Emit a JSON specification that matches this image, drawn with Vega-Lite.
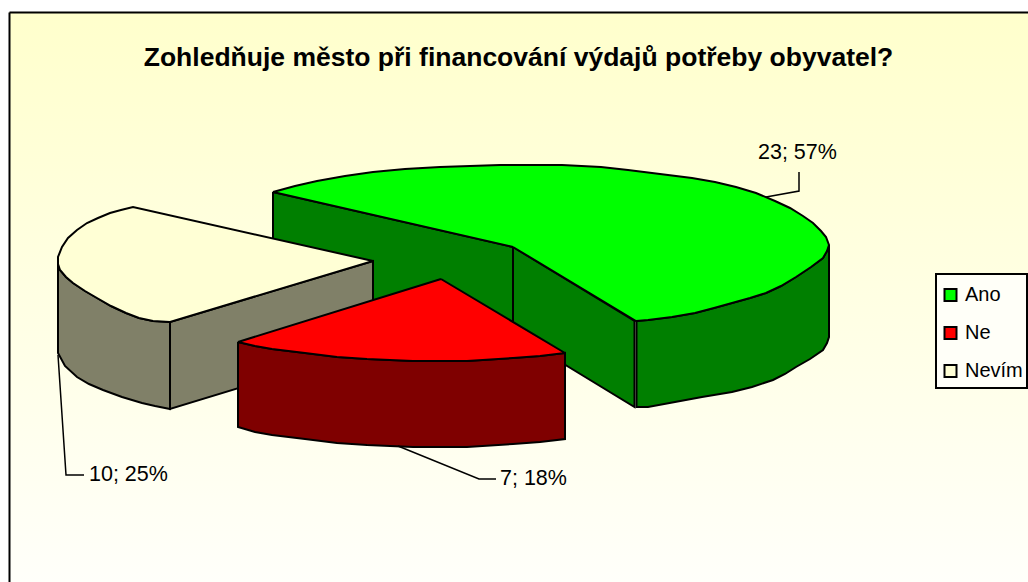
{"$schema":"https://vega.github.io/schema/vega-lite/v6.json","width":1019,"height":570,"autosize":"none","padding":{"left":9,"top":12,"right":0,"bottom":0},"background":"white","view":{"stroke":null,"fill":{"gradient":"linear","x1":0,"y1":0,"x2":0,"y2":1,"stops":[{"offset":0,"color":"#FFFFCC"},{"offset":1,"color":"#FFFFFA"}]}},"title":{"text":"Zohledňuje město při financování výdajů potřeby obyvatel?","font":"Liberation Sans","fontSize":26.5,"fontWeight":"bold","color":"black","anchor":"middle","offset":-59},"layer":[{"data":{"values":[{"x":936,"x2":1027,"y":274,"y2":388}]},"mark":{"type":"rect","fill":"#FFFFF8","stroke":"black","strokeWidth":2},"encoding":{"x":{"field":"x","type":"quantitative","scale":{"domain":[9,1028],"nice":false,"zero":false},"axis":{"orient":"top","title":null,"labels":false,"ticks":false,"grid":false,"domainColor":"black","domainWidth":2}},"x2":{"field":"x2"},"y":{"field":"y","type":"quantitative","scale":{"domain":[582,12],"nice":false,"zero":false},"axis":{"orient":"left","title":null,"labels":false,"ticks":false,"grid":false,"domainColor":"black","domainWidth":2}},"y2":{"field":"y2"}}},
{"data":{"values":[
{"shape":"w1","part":"Ano bok","i":0,"x":273,"y":192},{"shape":"w1","part":"Ano bok","i":1,"x":513,"y":247},{"shape":"w1","part":"Ano bok","i":2,"x":513,"y":333},{"shape":"w1","part":"Ano bok","i":3,"x":273,"y":279},{"shape":"w1","part":"Ano bok","i":4,"x":273,"y":192},
{"shape":"w2","part":"Ano bok","i":0,"x":513,"y":247},{"shape":"w2","part":"Ano bok","i":1,"x":634.5,"y":321},{"shape":"w2","part":"Ano bok","i":2,"x":634.5,"y":407},{"shape":"w2","part":"Ano bok","i":3,"x":513,"y":333},{"shape":"w2","part":"Ano bok","i":4,"x":513,"y":247},
{"shape":"w3","part":"Ano bok","i":0,"x":636.5,"y":321},{"shape":"w3","part":"Ano bok","i":1,"x":648,"y":320},{"shape":"w3","part":"Ano bok","i":2,"x":672,"y":317},{"shape":"w3","part":"Ano bok","i":3,"x":695,"y":313},{"shape":"w3","part":"Ano bok","i":4,"x":714,"y":308},{"shape":"w3","part":"Ano bok","i":5,"x":732,"y":303},{"shape":"w3","part":"Ano bok","i":6,"x":750,"y":298},{"shape":"w3","part":"Ano bok","i":7,"x":766,"y":293},{"shape":"w3","part":"Ano bok","i":8,"x":781,"y":286},{"shape":"w3","part":"Ano bok","i":9,"x":796,"y":277},{"shape":"w3","part":"Ano bok","i":10,"x":811,"y":267},{"shape":"w3","part":"Ano bok","i":11,"x":823,"y":258},{"shape":"w3","part":"Ano bok","i":12,"x":827,"y":251},{"shape":"w3","part":"Ano bok","i":13,"x":829,"y":245},{"shape":"w3","part":"Ano bok","i":14,"x":829,"y":337},{"shape":"w3","part":"Ano bok","i":15,"x":827,"y":343},{"shape":"w3","part":"Ano bok","i":16,"x":823,"y":350},{"shape":"w3","part":"Ano bok","i":17,"x":810,"y":359},{"shape":"w3","part":"Ano bok","i":18,"x":796,"y":367},{"shape":"w3","part":"Ano bok","i":19,"x":785,"y":374},{"shape":"w3","part":"Ano bok","i":20,"x":773,"y":380},{"shape":"w3","part":"Ano bok","i":21,"x":752,"y":387},{"shape":"w3","part":"Ano bok","i":22,"x":732,"y":392},{"shape":"w3","part":"Ano bok","i":23,"x":702,"y":397},{"shape":"w3","part":"Ano bok","i":24,"x":675,"y":402},{"shape":"w3","part":"Ano bok","i":25,"x":648,"y":407},{"shape":"w3","part":"Ano bok","i":26,"x":636.5,"y":407},{"shape":"w3","part":"Ano bok","i":27,"x":636.5,"y":321},
{"shape":"t1","part":"Ano","i":0,"x":513,"y":247},{"shape":"t1","part":"Ano","i":1,"x":273,"y":192},{"shape":"t1","part":"Ano","i":2,"x":295,"y":186},{"shape":"t1","part":"Ano","i":3,"x":317,"y":181},{"shape":"t1","part":"Ano","i":4,"x":345,"y":176},{"shape":"t1","part":"Ano","i":5,"x":373,"y":172},{"shape":"t1","part":"Ano","i":6,"x":405,"y":169},{"shape":"t1","part":"Ano","i":7,"x":440,"y":167},{"shape":"t1","part":"Ano","i":8,"x":470,"y":166},{"shape":"t1","part":"Ano","i":9,"x":500,"y":165},{"shape":"t1","part":"Ano","i":10,"x":530,"y":165},{"shape":"t1","part":"Ano","i":11,"x":562,"y":165},{"shape":"t1","part":"Ano","i":12,"x":601,"y":167},{"shape":"t1","part":"Ano","i":13,"x":628,"y":170},{"shape":"t1","part":"Ano","i":14,"x":668,"y":175},{"shape":"t1","part":"Ano","i":15,"x":692,"y":178},{"shape":"t1","part":"Ano","i":16,"x":715,"y":182},{"shape":"t1","part":"Ano","i":17,"x":736,"y":187},{"shape":"t1","part":"Ano","i":18,"x":756,"y":193},{"shape":"t1","part":"Ano","i":19,"x":775,"y":201},{"shape":"t1","part":"Ano","i":20,"x":790,"y":208},{"shape":"t1","part":"Ano","i":21,"x":803,"y":216},{"shape":"t1","part":"Ano","i":22,"x":813,"y":223},{"shape":"t1","part":"Ano","i":23,"x":821,"y":231},{"shape":"t1","part":"Ano","i":24,"x":826,"y":237},{"shape":"t1","part":"Ano","i":25,"x":829,"y":245},{"shape":"t1","part":"Ano","i":26,"x":827,"y":251},{"shape":"t1","part":"Ano","i":27,"x":823,"y":258},{"shape":"t1","part":"Ano","i":28,"x":811,"y":267},{"shape":"t1","part":"Ano","i":29,"x":796,"y":277},{"shape":"t1","part":"Ano","i":30,"x":781,"y":286},{"shape":"t1","part":"Ano","i":31,"x":766,"y":293},{"shape":"t1","part":"Ano","i":32,"x":750,"y":298},{"shape":"t1","part":"Ano","i":33,"x":732,"y":303},{"shape":"t1","part":"Ano","i":34,"x":714,"y":308},{"shape":"t1","part":"Ano","i":35,"x":695,"y":313},{"shape":"t1","part":"Ano","i":36,"x":672,"y":317},{"shape":"t1","part":"Ano","i":37,"x":648,"y":320},{"shape":"t1","part":"Ano","i":38,"x":636,"y":321},{"shape":"t1","part":"Ano","i":39,"x":513,"y":247},
{"shape":"w4","part":"Nevím bok","i":0,"x":58,"y":257},{"shape":"w4","part":"Nevím bok","i":1,"x":58,"y":264},{"shape":"w4","part":"Nevím bok","i":2,"x":60,"y":270},{"shape":"w4","part":"Nevím bok","i":3,"x":66,"y":277},{"shape":"w4","part":"Nevím bok","i":4,"x":73,"y":283},{"shape":"w4","part":"Nevím bok","i":5,"x":85,"y":291},{"shape":"w4","part":"Nevím bok","i":6,"x":97,"y":298},{"shape":"w4","part":"Nevím bok","i":7,"x":111,"y":306},{"shape":"w4","part":"Nevím bok","i":8,"x":126,"y":313},{"shape":"w4","part":"Nevím bok","i":9,"x":139,"y":318},{"shape":"w4","part":"Nevím bok","i":10,"x":153,"y":321},{"shape":"w4","part":"Nevím bok","i":11,"x":170,"y":322},{"shape":"w4","part":"Nevím bok","i":12,"x":170,"y":409},{"shape":"w4","part":"Nevím bok","i":13,"x":155,"y":406},{"shape":"w4","part":"Nevím bok","i":14,"x":142,"y":403},{"shape":"w4","part":"Nevím bok","i":15,"x":122,"y":397},{"shape":"w4","part":"Nevím bok","i":16,"x":103,"y":390},{"shape":"w4","part":"Nevím bok","i":17,"x":89,"y":384},{"shape":"w4","part":"Nevím bok","i":18,"x":77,"y":377},{"shape":"w4","part":"Nevím bok","i":19,"x":65,"y":366},{"shape":"w4","part":"Nevím bok","i":20,"x":58,"y":353},{"shape":"w4","part":"Nevím bok","i":21,"x":58,"y":257},
{"shape":"w5","part":"Nevím bok","i":0,"x":170,"y":322},{"shape":"w5","part":"Nevím bok","i":1,"x":373,"y":261},{"shape":"w5","part":"Nevím bok","i":2,"x":373,"y":347},{"shape":"w5","part":"Nevím bok","i":3,"x":170,"y":409},{"shape":"w5","part":"Nevím bok","i":4,"x":170,"y":322},
{"shape":"t2","part":"Nevím","i":0,"x":373,"y":261},{"shape":"t2","part":"Nevím","i":1,"x":133,"y":207},{"shape":"t2","part":"Nevím","i":2,"x":121,"y":210},{"shape":"t2","part":"Nevím","i":3,"x":110,"y":213},{"shape":"t2","part":"Nevím","i":4,"x":98,"y":218},{"shape":"t2","part":"Nevím","i":5,"x":87,"y":223},{"shape":"t2","part":"Nevím","i":6,"x":77,"y":230},{"shape":"t2","part":"Nevím","i":7,"x":68,"y":238},{"shape":"t2","part":"Nevím","i":8,"x":62,"y":247},{"shape":"t2","part":"Nevím","i":9,"x":58,"y":257},{"shape":"t2","part":"Nevím","i":10,"x":58,"y":264},{"shape":"t2","part":"Nevím","i":11,"x":60,"y":270},{"shape":"t2","part":"Nevím","i":12,"x":66,"y":277},{"shape":"t2","part":"Nevím","i":13,"x":73,"y":283},{"shape":"t2","part":"Nevím","i":14,"x":85,"y":291},{"shape":"t2","part":"Nevím","i":15,"x":97,"y":298},{"shape":"t2","part":"Nevím","i":16,"x":111,"y":306},{"shape":"t2","part":"Nevím","i":17,"x":126,"y":313},{"shape":"t2","part":"Nevím","i":18,"x":139,"y":318},{"shape":"t2","part":"Nevím","i":19,"x":153,"y":321},{"shape":"t2","part":"Nevím","i":20,"x":170,"y":322},{"shape":"t2","part":"Nevím","i":21,"x":373,"y":261},
{"shape":"w6","part":"Ne bok","i":0,"x":238,"y":342},{"shape":"w6","part":"Ne bok","i":1,"x":255,"y":346},{"shape":"w6","part":"Ne bok","i":2,"x":272,"y":349},{"shape":"w6","part":"Ne bok","i":3,"x":305,"y":353},{"shape":"w6","part":"Ne bok","i":4,"x":337,"y":357},{"shape":"w6","part":"Ne bok","i":5,"x":367,"y":359},{"shape":"w6","part":"Ne bok","i":6,"x":413,"y":361},{"shape":"w6","part":"Ne bok","i":7,"x":467,"y":361},{"shape":"w6","part":"Ne bok","i":8,"x":513,"y":358},{"shape":"w6","part":"Ne bok","i":9,"x":540,"y":356},{"shape":"w6","part":"Ne bok","i":10,"x":565,"y":353},{"shape":"w6","part":"Ne bok","i":11,"x":565,"y":439},{"shape":"w6","part":"Ne bok","i":12,"x":540,"y":442},{"shape":"w6","part":"Ne bok","i":13,"x":513,"y":444},{"shape":"w6","part":"Ne bok","i":14,"x":467,"y":447},{"shape":"w6","part":"Ne bok","i":15,"x":413,"y":447},{"shape":"w6","part":"Ne bok","i":16,"x":367,"y":445},{"shape":"w6","part":"Ne bok","i":17,"x":337,"y":443},{"shape":"w6","part":"Ne bok","i":18,"x":305,"y":439},{"shape":"w6","part":"Ne bok","i":19,"x":272,"y":435},{"shape":"w6","part":"Ne bok","i":20,"x":255,"y":432},{"shape":"w6","part":"Ne bok","i":21,"x":238,"y":427},{"shape":"w6","part":"Ne bok","i":22,"x":238,"y":342},
{"shape":"t3","part":"Ne","i":0,"x":441,"y":279},{"shape":"t3","part":"Ne","i":1,"x":238,"y":342},{"shape":"t3","part":"Ne","i":2,"x":255,"y":346},{"shape":"t3","part":"Ne","i":3,"x":272,"y":349},{"shape":"t3","part":"Ne","i":4,"x":305,"y":353},{"shape":"t3","part":"Ne","i":5,"x":337,"y":357},{"shape":"t3","part":"Ne","i":6,"x":367,"y":359},{"shape":"t3","part":"Ne","i":7,"x":413,"y":361},{"shape":"t3","part":"Ne","i":8,"x":467,"y":361},{"shape":"t3","part":"Ne","i":9,"x":513,"y":358},{"shape":"t3","part":"Ne","i":10,"x":540,"y":356},{"shape":"t3","part":"Ne","i":11,"x":565,"y":353},{"shape":"t3","part":"Ne","i":12,"x":441,"y":279}
]},"mark":{"type":"line","stroke":"black","strokeWidth":2,"strokeJoin":"miter","strokeMiterLimit":3,"clip":false},"encoding":{"x":{"field":"x","type":"quantitative"},"y":{"field":"y","type":"quantitative"},"detail":{"field":"shape"},"order":{"field":"i","type":"quantitative"},"fill":{"field":"part","type":"nominal","scale":{"domain":["Ano","Ne","Nevím","Ano bok","Ne bok","Nevím bok"],"range":["#00FF00","#FF0000","#FFFFD5","#007F00","#7F0000","#808068"]},"legend":{"values":["Ano","Ne","Nevím"],"title":null,"orient":"none","legendX":931.5,"legendY":273,"symbolType":"square","symbolSize":144,"symbolStrokeColor":"black","symbolStrokeWidth":2,"labelFont":"Liberation Sans","labelFontSize":20,"labelColor":"black","rowPadding":18,"fillColor":null,"strokeColor":null,"padding":0,"symbolOffset":0,"labelOffset":4.5}}}},
{"data":{"values":[
{"leader":"a","i":0,"x":766,"y":197},{"leader":"a","i":1,"x":799,"y":191},{"leader":"a","i":2,"x":799,"y":172},
{"leader":"b","i":0,"x":58,"y":355},{"leader":"b","i":1,"x":66,"y":475},{"leader":"b","i":2,"x":84,"y":475},
{"leader":"c","i":0,"x":398,"y":446},{"leader":"c","i":1,"x":479,"y":479},{"leader":"c","i":2,"x":496,"y":479}
]},"mark":{"type":"line","stroke":"black","strokeWidth":1.5,"strokeJoin":"miter"},"encoding":{"x":{"field":"x","type":"quantitative"},"y":{"field":"y","type":"quantitative"},"detail":{"field":"leader"},"order":{"field":"i","type":"quantitative"}}},
{"data":{"values":[
{"slice":"Ano","count":23,"percent":57,"label":"23; 57%","x":758,"y":153},
{"slice":"Nevím","count":10,"percent":25,"label":"10; 25%","x":89,"y":475},
{"slice":"Ne","count":7,"percent":18,"label":"7; 18%","x":500,"y":479}
]},"mark":{"type":"text","font":"Liberation Sans","fontSize":21.5,"align":"left","baseline":"middle","color":"black"},"encoding":{"x":{"field":"x","type":"quantitative"},"y":{"field":"y","type":"quantitative"},"text":{"field":"label"}}}
]}
